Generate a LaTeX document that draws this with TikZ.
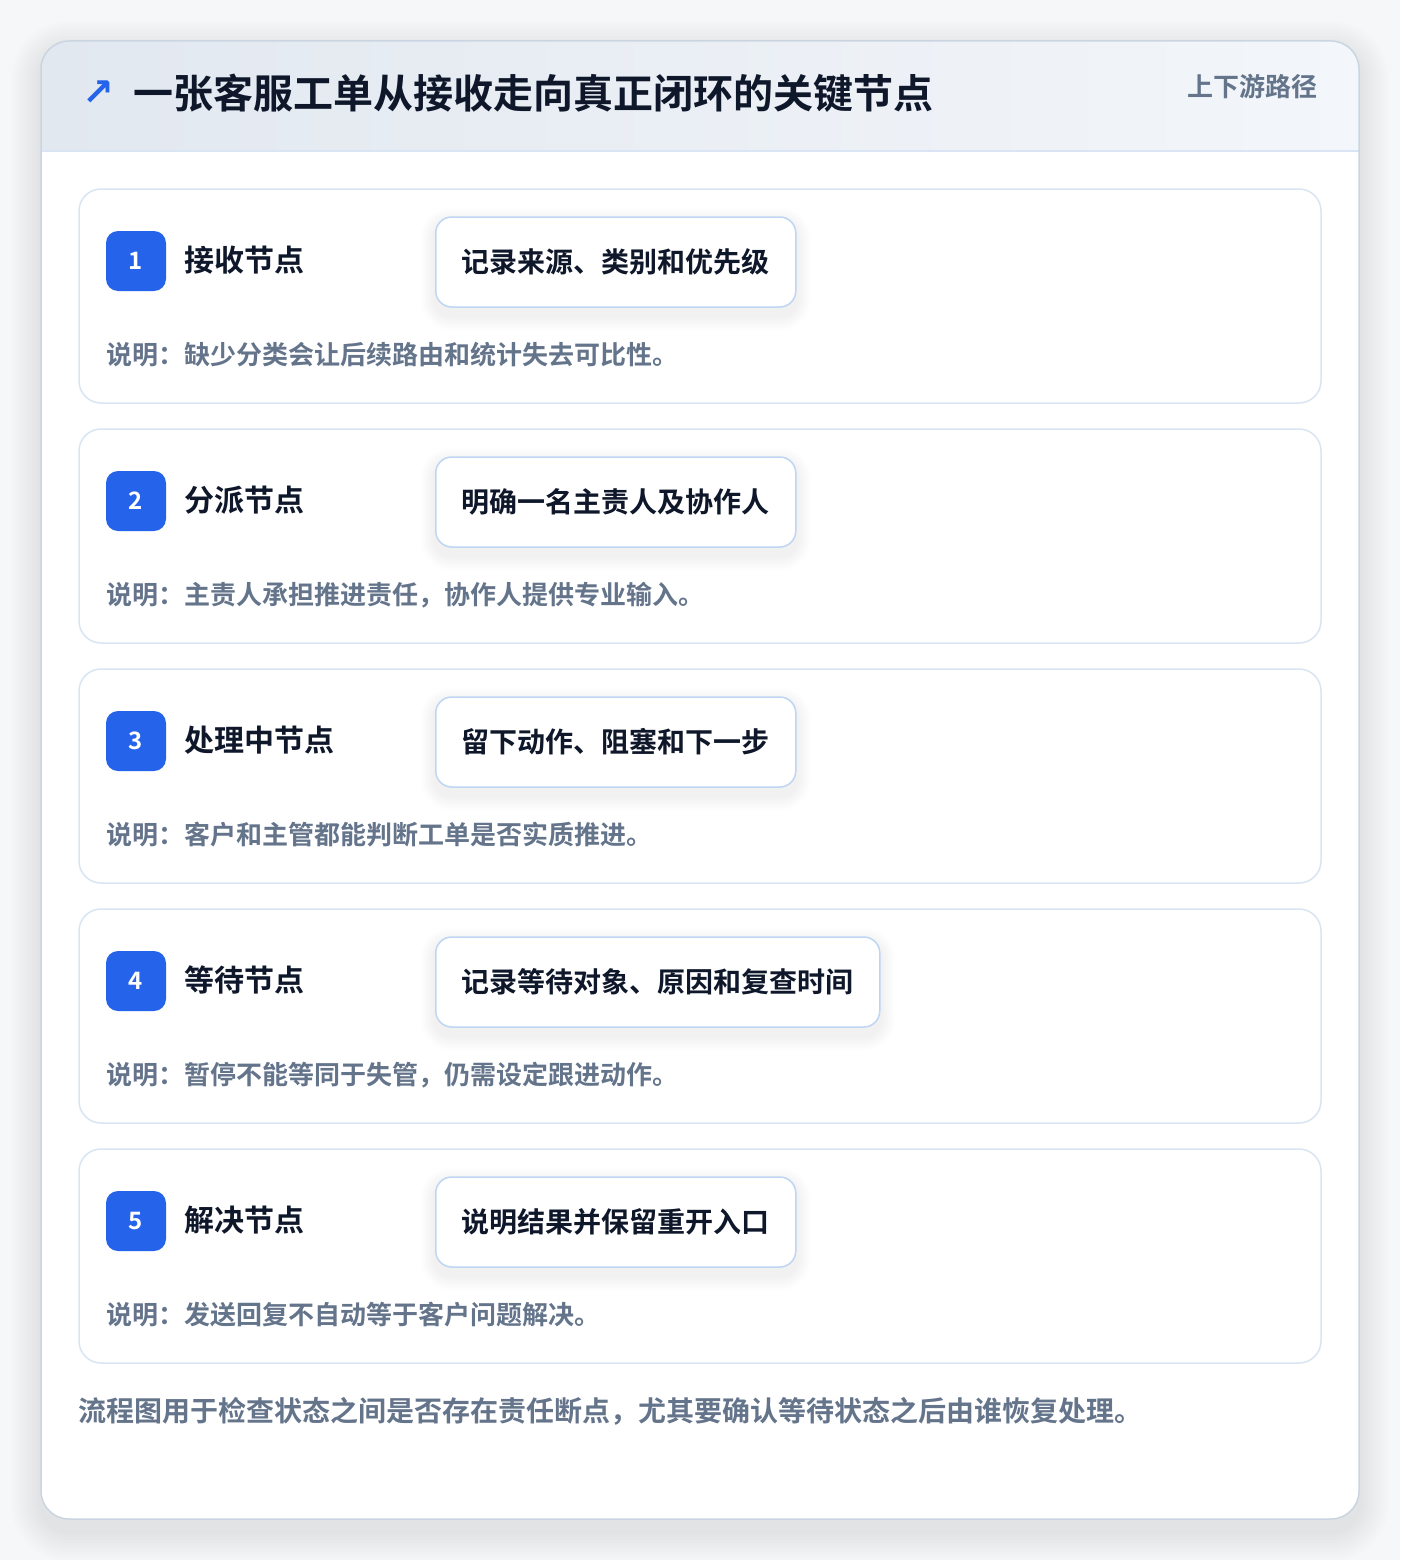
\documentclass[tikz,border=0pt]{standalone}
\usepackage{fontspec}
\newfontfamily\cjk{Noto Sans CJK SC}[BoldFont={Noto Sans CJK SC Bold}]
\newfontfamily\symb{DejaVu Sans}[BoldFont={DejaVu Sans Bold}]
\usetikzlibrary{positioning}
\definecolor{pagebg}{HTML}{F6F7F8}
\definecolor{cardline}{HTML}{CBD5E1}
\definecolor{rowline}{HTML}{D9E5F4}
\definecolor{boxline}{HTML}{BFD5F3}
\definecolor{headl}{HTML}{E2E8F0}
\definecolor{headr}{HTML}{F3F6FA}
\definecolor{badgeblue}{HTML}{2563EB}
\definecolor{ink}{HTML}{0F172A}
\definecolor{slate}{HTML}{64748B}
\pgfdeclarelayer{cards}
\pgfdeclarelayer{shade}
\pgfsetlayers{cards,shade,main}
\tikzset{
  rowcard/.style = {draw=rowline,line width=1.5pt,fill=white,rounded corners=22pt},
  badge/.style = {fill=badgeblue,rounded corners=12pt,minimum size=60pt,inner sep=0pt,
    text=white,font=\cjk\bfseries\fontsize{24}{28}\selectfont},
  steplabel/.style = {anchor=west,inner sep=0pt,text=ink,font=\cjk\bfseries\fontsize{30}{36}\selectfont},
  actbox/.style = {draw=boxline,line width=1.5pt,fill=white,rounded corners=16pt,anchor=west,
    minimum height=90pt,inner xsep=26pt,inner ysep=0pt,text=ink,
    font=\cjk\bfseries\fontsize{28}{34}\selectfont},
  note/.style = {anchor=west,inner sep=0pt,text=slate,font=\cjk\bfseries\fontsize{26}{32}\selectfont}
}
\begin{document}
\begin{tikzpicture}[x=1pt,y=-1pt]
  \useasboundingbox (0,0) rectangle (1400,1560);
  \begin{pgfonlayer}{cards}
    \fill[pagebg] (0,0) rectangle (1400,1560);
    % soft shadow of the card
    \foreach \s in {30,27,...,3}
      \fill[black,opacity=0.007,rounded corners={28pt+\s pt}]
        (41-\s,41-\s+10) rectangle (1359+\s,1519+\s+12);
    \fill[white,rounded corners=28pt] (41,41) rectangle (1359,1519);
    \begin{scope}
      \clip[rounded corners=28pt] (41,41) rectangle (1359,1519);
      \shade[left color=headl,right color=headr] (41,41) rectangle (1359,151);
    \end{scope}
    \draw[rowline,line width=1.5pt] (41,151) -- (1359,151);
    \draw[cardline,line width=1.5pt,rounded corners=28pt] (41,41) rectangle (1359,1519);
  \end{pgfonlayer}
  % header
  \node[inner sep=0pt,text=badgeblue,font=\symb\bfseries\fontsize{38}{44}\selectfont] (arrow) at (98,93) {↗};
  \node[anchor=west,inner sep=0pt,text=ink,font=\cjk\bfseries\fontsize{40}{48}\selectfont]
    (title) at (133,93) {一张客服工单从接收走向真正闭环的关键节点};
  \node[anchor=east,inner sep=0pt,text=slate,font=\cjk\bfseries\fontsize{26}{32}\selectfont]
    (path) at (1318,87) {上下游路径};
  % steps
  \foreach \n/\lab/\act/\txt in {
      1/接收节点/记录来源、类别和优先级/缺少分类会让后续路由和统计失去可比性。,
      2/分派节点/明确一名主责人及协作人/主责人承担推进责任，协作人提供专业输入。,
      3/处理中节点/留下动作、阻塞和下一步/客户和主管都能判断工单是否实质推进。,
      4/等待节点/记录等待对象、原因和复查时间/暂停不能等同于失管，仍需设定跟进动作。,
      5/解决节点/说明结果并保留重开入口/发送回复不自动等于客户问题解决。} {
    \pgfmathsetmacro\top{189+240*(\n-1)}
    \begin{pgfonlayer}{cards}
      \draw[rowcard] (79,\top) rectangle (1321,\top+214);
    \end{pgfonlayer}
    \node[badge] (b\n) at (136,\top+72) {\n};
    \node[steplabel] (l\n) at (184,\top+71) {\lab};
    \node[actbox] (a\n) at (435,\top+73) {\act};
    \begin{pgfonlayer}{shade}
      \foreach \s in {14,12,...,2}
        \fill[black,opacity=0.008,rounded corners={16pt+\s pt}]
          ([xshift=-\s pt,yshift=\s pt-6pt]a\n.north west) rectangle ([xshift=\s pt,yshift=-\s pt-8pt]a\n.south east);
    \end{pgfonlayer}
    \node[note] (d\n) at (106,\top+166) {说明：\txt};
  }
  % footer
  \node[anchor=west,inner sep=0pt,text=slate,font=\cjk\bfseries\fontsize{28}{34}\selectfont]
    (foot) at (78,1411) {流程图用于检查状态之间是否存在责任断点，尤其要确认等待状态之后由谁恢复处理。};
\end{tikzpicture}
\end{document}
